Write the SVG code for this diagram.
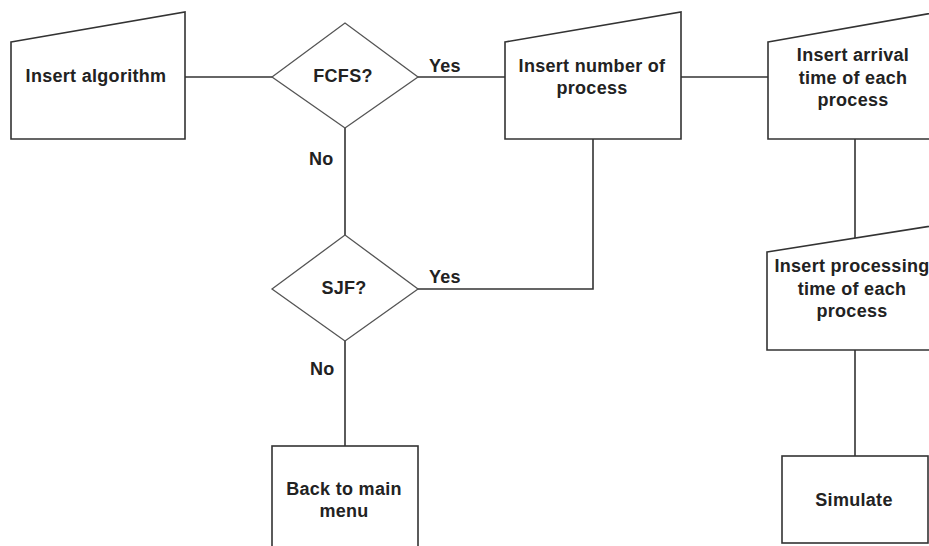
<svg xmlns="http://www.w3.org/2000/svg" width="929" height="546" viewBox="0 0 929 546">
<style>
.shape{fill:#fff;stroke:#333;stroke-width:1.6}
.dia{fill:#fff;stroke:#555;stroke-width:1.3}
.conn{fill:none;stroke:#333;stroke-width:1.6}
text{font-family:"Liberation Sans",Arial,sans-serif;font-size:18px;font-weight:bold;fill:#222;text-anchor:middle;letter-spacing:0.3px}
.lbl{text-anchor:start}
</style>
<rect width="929" height="546" fill="#fff"/>
<g id="connectors">
<line class="conn" x1="185" y1="77" x2="272" y2="77"/>
<line class="conn" x1="418" y1="77" x2="505" y2="77"/>
<line class="conn" x1="681" y1="77" x2="768" y2="77"/>
<line class="conn" x1="345" y1="128" x2="345" y2="235"/>
<polyline class="conn" points="418,289 593,289 593,139"/>
<line class="conn" x1="345" y1="341" x2="345" y2="446"/>
<line class="conn" x1="855" y1="139" x2="855" y2="238"/>
<line class="conn" x1="855" y1="350" x2="855" y2="456"/>
<text class="lbl" x="429" y="72">Yes</text>
<text class="lbl" x="309" y="165">No</text>
<text class="lbl" x="429" y="283">Yes</text>
<text class="lbl" x="310" y="375">No</text>
</g>
<g id="insert-algorithm">
<polygon class="shape" points="11,42 185,12 185,139 11,139"/>
<text x="96" y="82">Insert algorithm</text>
</g>
<g id="fcfs">
<polygon class="dia" points="272,77 345,23 418,77 345,128"/>
<text x="343" y="82">FCFS?</text>
</g>
<g id="insert-number">
<polygon class="shape" points="505,42 681,12 681,139 505,139"/>
<text x="592" y="72">Insert number of</text>
<text x="592" y="94">process</text>
</g>
<g id="insert-arrival">
<polygon class="shape" points="768,42 944,11 944,139 768,139"/>
<text x="853" y="61">Insert arrival</text>
<text x="853" y="84">time of each</text>
<text x="853" y="106">process</text>
</g>
<g id="sjf">
<polygon class="dia" points="272,289 345,235 418,289 345,341"/>
<text x="344" y="294">SJF?</text>
</g>
<g id="insert-processing">
<polygon class="shape" points="767,252 944,224 944,350 767,350"/>
<text x="852" y="272">Insert processing</text>
<text x="852" y="295">time of each</text>
<text x="852" y="317">process</text>
</g>
<g id="back-to-menu">
<rect class="shape" x="272" y="446" width="146" height="110"/>
<text x="344" y="495">Back to main</text>
<text x="344" y="517">menu</text>
</g>
<g id="simulate">
<rect class="shape" x="782" y="456" width="146" height="87"/>
<text x="854" y="506">Simulate</text>
</g>
</svg>
